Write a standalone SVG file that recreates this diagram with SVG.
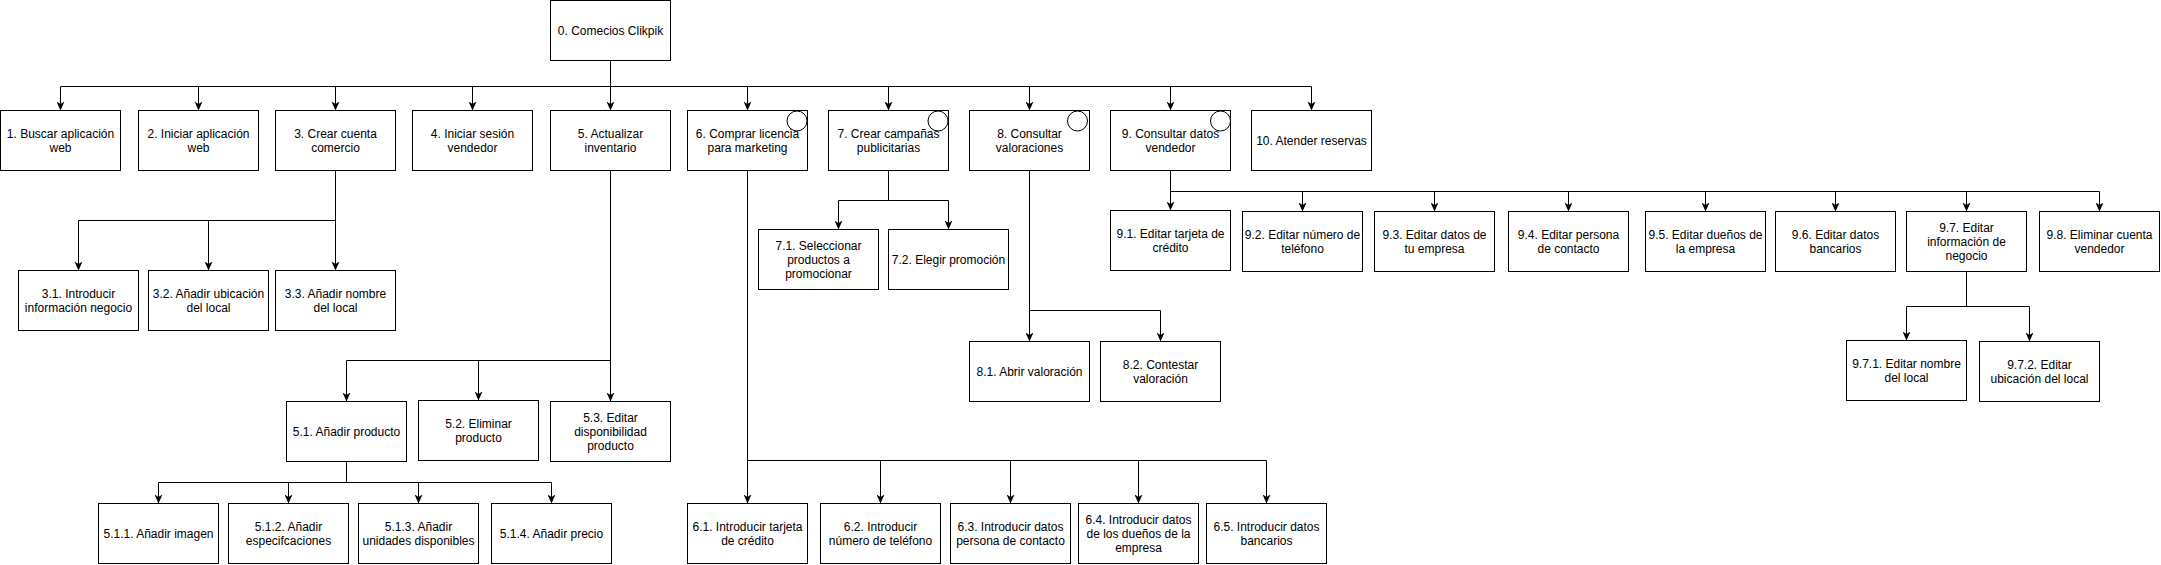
<svg xmlns="http://www.w3.org/2000/svg" width="2161" height="565" viewBox="0 0 2161 565">
<style>
rect.b{fill:#fff;stroke:#000;stroke-width:1}
circle.c{fill:none;stroke:#000;stroke-width:1}
text{font-family:"Liberation Sans",Arial,Helvetica,sans-serif;font-size:12px;fill:#000;text-anchor:middle}
#connectors path{fill:none;stroke:#000;stroke-width:1;marker-end:url(#arr)}
</style>
<defs>
<marker id="arr" markerUnits="userSpaceOnUse" viewBox="0 0 9 8" markerWidth="9" markerHeight="8" refX="9" refY="4" orient="auto">
<path d="M0,0 L9,4 L0,8 L2.5,4 Z" fill="#000"/>
</marker>
</defs>
<rect width="2161" height="565" fill="#fff"/>
<g id="connectors">
<path d="M610.5 60.5V86.5H60.5V110.5"/>
<path d="M610.5 60.5V86.5H198.5V110.5"/>
<path d="M610.5 60.5V86.5H335.5V110.5"/>
<path d="M610.5 60.5V86.5H472.5V110.5"/>
<path d="M610.5 60.5V86.5H610.5V110.5"/>
<path d="M610.5 60.5V86.5H747.5V110.5"/>
<path d="M610.5 60.5V86.5H888.5V110.5"/>
<path d="M610.5 60.5V86.5H1029.5V110.5"/>
<path d="M610.5 60.5V86.5H1170.5V110.5"/>
<path d="M610.5 60.5V86.5H1311.5V110.5"/>
<path d="M335.5 170.5V220.5H78.5V270.5"/>
<path d="M335.5 170.5V220.5H208.5V270.5"/>
<path d="M335.5 170.5V220.5H335.5V270.5"/>
<path d="M610.5 170.5V360.5H346.5V401.5"/>
<path d="M610.5 170.5V360.5H478.5V400.5"/>
<path d="M610.5 170.5V360.5H610.5V401.5"/>
<path d="M346.5 461.5V482.5H158.5V503.5"/>
<path d="M346.5 461.5V482.5H288.5V503.5"/>
<path d="M346.5 461.5V482.5H418.5V503.5"/>
<path d="M346.5 461.5V482.5H551.5V503.5"/>
<path d="M747.5 170.5V460.5H747.5V503.5"/>
<path d="M747.5 170.5V460.5H880.5V503.5"/>
<path d="M747.5 170.5V460.5H1010.5V503.5"/>
<path d="M747.5 170.5V460.5H1138.5V503.5"/>
<path d="M747.5 170.5V460.5H1266.5V503.5"/>
<path d="M888.5 170.5V200.5H838.5V229.5"/>
<path d="M888.5 170.5V200.5H948.5V229.5"/>
<path d="M1029.5 170.5V310.5H1029.5V341.5"/>
<path d="M1029.5 170.5V310.5H1160.5V341.5"/>
<path d="M1170.5 170.5V191.5H1170.5V210.5"/>
<path d="M1170.5 170.5V191.5H1302.5V211.5"/>
<path d="M1170.5 170.5V191.5H1434.5V211.5"/>
<path d="M1170.5 170.5V191.5H1568.5V211.5"/>
<path d="M1170.5 170.5V191.5H1705.5V211.5"/>
<path d="M1170.5 170.5V191.5H1835.5V211.5"/>
<path d="M1170.5 170.5V191.5H1966.5V211.5"/>
<path d="M1170.5 170.5V191.5H2099.5V211.5"/>
<path d="M1966.5 271.5V306.5H1906.5V340.5"/>
<path d="M1966.5 271.5V306.5H2029.5V341.5"/>
</g>
<g id="n0"><rect class="b" x="550.5" y="0.5" width="120" height="60"/><text x="610.5" y="34.5">0. Comecios Clikpik</text></g>
<g id="n1"><rect class="b" x="0.5" y="110.5" width="120" height="60"/><text x="60.5" y="137.5">1. Buscar aplicación<tspan x="60.5" y="151.5">web</tspan></text></g>
<g id="n2"><rect class="b" x="138.5" y="110.5" width="120" height="60"/><text x="198.5" y="137.5">2. Iniciar aplicación<tspan x="198.5" y="151.5">web</tspan></text></g>
<g id="n3"><rect class="b" x="275.5" y="110.5" width="120" height="60"/><text x="335.5" y="137.5">3. Crear cuenta<tspan x="335.5" y="151.5">comercio</tspan></text></g>
<g id="n4"><rect class="b" x="412.5" y="110.5" width="120" height="60"/><text x="472.5" y="137.5">4. Iniciar sesión<tspan x="472.5" y="151.5">vendedor</tspan></text></g>
<g id="n5"><rect class="b" x="550.5" y="110.5" width="120" height="60"/><text x="610.5" y="137.5">5. Actualizar<tspan x="610.5" y="151.5">inventario</tspan></text></g>
<g id="n6"><rect class="b" x="687.5" y="110.5" width="120" height="60"/><text x="747.5" y="137.5">6. Comprar licencia<tspan x="747.5" y="151.5">para marketing</tspan></text><circle class="c" cx="797" cy="121" r="10"/></g>
<g id="n7"><rect class="b" x="828.5" y="110.5" width="120" height="60"/><text x="888.5" y="137.5">7. Crear campañas<tspan x="888.5" y="151.5">publicitarias</tspan></text><circle class="c" cx="938" cy="121" r="10"/></g>
<g id="n8"><rect class="b" x="969.5" y="110.5" width="120" height="60"/><text x="1029.5" y="137.5">8. Consultar<tspan x="1029.5" y="151.5">valoraciones</tspan></text><circle class="c" cx="1077.5" cy="121" r="10"/></g>
<g id="n9"><rect class="b" x="1110.5" y="110.5" width="120" height="60"/><text x="1170.5" y="137.5">9. Consultar datos<tspan x="1170.5" y="151.5">vendedor</tspan></text><circle class="c" cx="1220.5" cy="121" r="10"/></g>
<g id="n10"><rect class="b" x="1251.5" y="110.5" width="120" height="60"/><text x="1311.5" y="144.5">10. Atender reservas</text></g>
<g id="n3-1"><rect class="b" x="18.5" y="270.5" width="120" height="60"/><text x="78.5" y="297.5">3.1. Introducir<tspan x="78.5" y="311.5">información negocio</tspan></text></g>
<g id="n3-2"><rect class="b" x="148.5" y="270.5" width="120" height="60"/><text x="208.5" y="297.5">3.2. Añadir ubicación<tspan x="208.5" y="311.5">del local</tspan></text></g>
<g id="n3-3"><rect class="b" x="275.5" y="270.5" width="120" height="60"/><text x="335.5" y="297.5">3.3. Añadir nombre<tspan x="335.5" y="311.5">del local</tspan></text></g>
<g id="n5-1"><rect class="b" x="286.5" y="401.5" width="120" height="60"/><text x="346.5" y="435.5">5.1. Añadir producto</text></g>
<g id="n5-2"><rect class="b" x="418.5" y="400.5" width="120" height="60"/><text x="478.5" y="427.5">5.2. Eliminar<tspan x="478.5" y="441.5">producto</tspan></text></g>
<g id="n5-3"><rect class="b" x="550.5" y="401.5" width="120" height="60"/><text x="610.5" y="421.5">5.3. Editar<tspan x="610.5" y="435.5">disponibilidad</tspan><tspan x="610.5" y="449.5">producto</tspan></text></g>
<g id="n5-1-1"><rect class="b" x="98.5" y="503.5" width="120" height="60"/><text x="158.5" y="537.5">5.1.1. Añadir imagen</text></g>
<g id="n5-1-2"><rect class="b" x="228.5" y="503.5" width="120" height="60"/><text x="288.5" y="530.5">5.1.2. Añadir<tspan x="288.5" y="544.5">especifcaciones</tspan></text></g>
<g id="n5-1-3"><rect class="b" x="358.5" y="503.5" width="120" height="60"/><text x="418.5" y="530.5">5.1.3. Añadir<tspan x="418.5" y="544.5">unidades disponibles</tspan></text></g>
<g id="n5-1-4"><rect class="b" x="491.5" y="503.5" width="120" height="60"/><text x="551.5" y="537.5">5.1.4. Añadir precio</text></g>
<g id="n6-1"><rect class="b" x="687.5" y="503.5" width="120" height="60"/><text x="747.5" y="530.5">6.1. Introducir tarjeta<tspan x="747.5" y="544.5">de crédito</tspan></text></g>
<g id="n6-2"><rect class="b" x="820.5" y="503.5" width="120" height="60"/><text x="880.5" y="530.5">6.2. Introducir<tspan x="880.5" y="544.5">número de teléfono</tspan></text></g>
<g id="n6-3"><rect class="b" x="950.5" y="503.5" width="120" height="60"/><text x="1010.5" y="530.5">6.3. Introducir datos<tspan x="1010.5" y="544.5">persona de contacto</tspan></text></g>
<g id="n6-4"><rect class="b" x="1078.5" y="503.5" width="120" height="60"/><text x="1138.5" y="523.5">6.4. Introducir datos<tspan x="1138.5" y="537.5">de los dueños de la</tspan><tspan x="1138.5" y="551.5">empresa</tspan></text></g>
<g id="n6-5"><rect class="b" x="1206.5" y="503.5" width="120" height="60"/><text x="1266.5" y="530.5">6.5. Introducir datos<tspan x="1266.5" y="544.5">bancarios</tspan></text></g>
<g id="n7-1"><rect class="b" x="758.5" y="229.5" width="120" height="60"/><text x="818.5" y="249.5">7.1. Seleccionar<tspan x="818.5" y="263.5">productos a</tspan><tspan x="818.5" y="277.5">promocionar</tspan></text></g>
<g id="n7-2"><rect class="b" x="888.5" y="229.5" width="120" height="60"/><text x="948.5" y="263.5">7.2. Elegir promoción</text></g>
<g id="n8-1"><rect class="b" x="969.5" y="341.5" width="120" height="60"/><text x="1029.5" y="375.5">8.1. Abrir valoración</text></g>
<g id="n8-2"><rect class="b" x="1100.5" y="341.5" width="120" height="60"/><text x="1160.5" y="368.5">8.2. Contestar<tspan x="1160.5" y="382.5">valoración</tspan></text></g>
<g id="n9-1"><rect class="b" x="1110.5" y="210.5" width="120" height="60"/><text x="1170.5" y="237.5">9.1. Editar tarjeta de<tspan x="1170.5" y="251.5">crédito</tspan></text></g>
<g id="n9-2"><rect class="b" x="1242.5" y="211.5" width="120" height="60"/><text x="1302.5" y="238.5">9.2. Editar número de<tspan x="1302.5" y="252.5">teléfono</tspan></text></g>
<g id="n9-3"><rect class="b" x="1374.5" y="211.5" width="120" height="60"/><text x="1434.5" y="238.5">9.3. Editar datos de<tspan x="1434.5" y="252.5">tu empresa</tspan></text></g>
<g id="n9-4"><rect class="b" x="1508.5" y="211.5" width="120" height="60"/><text x="1568.5" y="238.5">9.4. Editar persona<tspan x="1568.5" y="252.5">de contacto</tspan></text></g>
<g id="n9-5"><rect class="b" x="1645.5" y="211.5" width="120" height="60"/><text x="1705.5" y="238.5">9.5. Editar dueños de<tspan x="1705.5" y="252.5">la empresa</tspan></text></g>
<g id="n9-6"><rect class="b" x="1775.5" y="211.5" width="120" height="60"/><text x="1835.5" y="238.5">9.6. Editar datos<tspan x="1835.5" y="252.5">bancarios</tspan></text></g>
<g id="n9-7"><rect class="b" x="1906.5" y="211.5" width="120" height="60"/><text x="1966.5" y="231.5">9.7. Editar<tspan x="1966.5" y="245.5">información de</tspan><tspan x="1966.5" y="259.5">negocio</tspan></text></g>
<g id="n9-8"><rect class="b" x="2039.5" y="211.5" width="120" height="60"/><text x="2099.5" y="238.5">9.8. Eliminar cuenta<tspan x="2099.5" y="252.5">vendedor</tspan></text></g>
<g id="n9-7-1"><rect class="b" x="1846.5" y="340.5" width="120" height="60"/><text x="1906.5" y="367.5">9.7.1. Editar nombre<tspan x="1906.5" y="381.5">del local</tspan></text></g>
<g id="n9-7-2"><rect class="b" x="1979.5" y="341.5" width="120" height="60"/><text x="2039.5" y="368.5">9.7.2. Editar<tspan x="2039.5" y="382.5">ubicación del local</tspan></text></g>
</svg>
